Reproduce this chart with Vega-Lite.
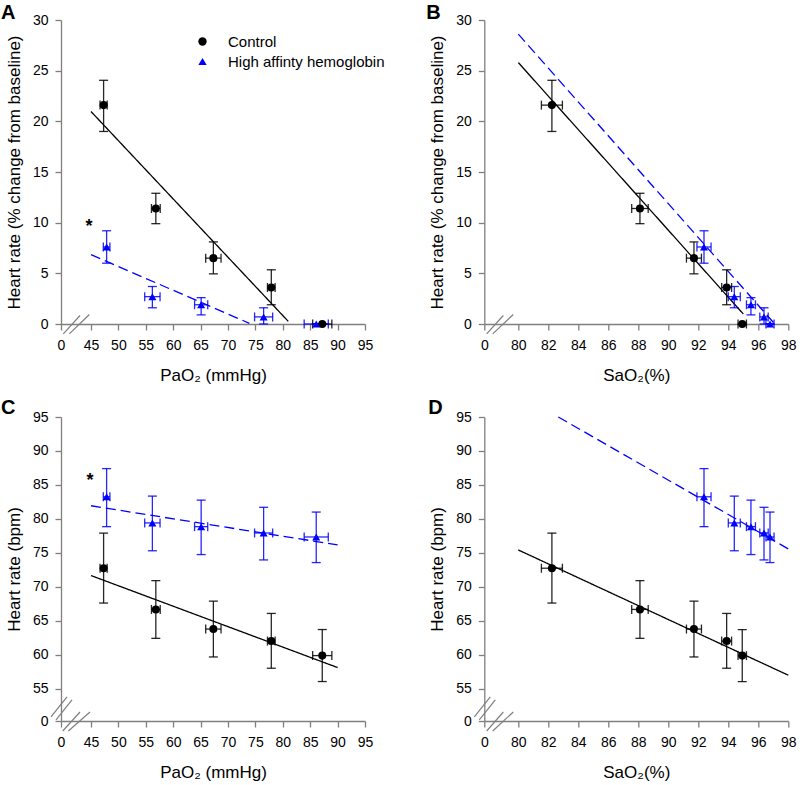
{
  "$schema": "https://vega.github.io/schema/vega-lite/v6.json",
  "padding": {"left": 1, "top": 3, "right": 5, "bottom": 5},
  "background": "white",
  "datasets": {
    "pts": [
      {"group":"Control","PaO2":47.3,"PaO2_lo":46.65,"PaO2_hi":47.95,"SaO2":82.24,"SaO2_lo":81.54,"SaO2_hi":82.94,"HRp":21.6,"HRp_lo":19.0,"HRp_hi":24.05,"HRb":72.73,"HRb_lo":67.6,"HRb_hi":77.9},
      {"group":"Control","PaO2":56.83,"PaO2_lo":56.03,"PaO2_hi":57.63,"SaO2":88.11,"SaO2_lo":87.56,"SaO2_hi":88.66,"HRp":11.4,"HRp_lo":9.9,"HRp_hi":12.9,"HRb":66.66,"HRb_lo":62.4,"HRb_hi":70.9},
      {"group":"Control","PaO2":67.33,"PaO2_lo":65.93,"PaO2_hi":68.73,"SaO2":91.71,"SaO2_lo":91.21,"SaO2_hi":92.21,"HRp":6.5,"HRp_lo":4.95,"HRp_hi":8.1,"HRb":63.77,"HRb_lo":59.66,"HRb_hi":67.88},
      {"group":"Control","PaO2":77.9,"PaO2_lo":77.2,"PaO2_hi":78.6,"SaO2":93.89,"SaO2_lo":93.56,"SaO2_hi":94.22,"HRp":3.6,"HRp_lo":1.9,"HRp_hi":5.35,"HRb":62.0,"HRb_lo":58.0,"HRb_hi":66.07},
      {"group":"Control","PaO2":87.2,"PaO2_lo":85.45,"PaO2_hi":88.95,"SaO2":94.93,"SaO2_lo":94.65,"SaO2_hi":95.21,"HRp":0,"HRp_lo":0,"HRp_hi":0,"HRb":59.86,"HRb_lo":56.04,"HRb_hi":63.7},
      {"group":"High affinty hemoglobin","PaO2":47.85,"PaO2_lo":47.25,"PaO2_hi":48.45,"SaO2":92.38,"SaO2_lo":91.91,"SaO2_hi":92.85,"HRp":7.6,"HRp_lo":6.0,"HRp_hi":9.2,"HRb":83.25,"HRb_lo":78.85,"HRb_hi":87.4},
      {"group":"High affinty hemoglobin","PaO2":56.2,"PaO2_lo":54.8,"PaO2_hi":57.6,"SaO2":94.4,"SaO2_lo":94.0,"SaO2_hi":94.8,"HRp":2.7,"HRp_lo":1.6,"HRp_hi":3.7,"HRb":79.4,"HRb_lo":75.3,"HRb_hi":83.35},
      {"group":"High affinty hemoglobin","PaO2":65.1,"PaO2_lo":63.9,"PaO2_hi":66.3,"SaO2":95.51,"SaO2_lo":95.21,"SaO2_hi":95.81,"HRp":1.9,"HRp_lo":0.9,"HRp_hi":2.6,"HRb":78.85,"HRb_lo":74.74,"HRb_hi":82.76},
      {"group":"High affinty hemoglobin","PaO2":76.5,"PaO2_lo":74.85,"PaO2_hi":78.15,"SaO2":96.38,"SaO2_lo":96.1,"SaO2_hi":96.66,"HRp":0.7,"HRp_lo":0.0,"HRp_hi":1.6,"HRb":77.92,"HRb_lo":73.95,"HRb_hi":81.7},
      {"group":"High affinty hemoglobin","PaO2":86.1,"PaO2_lo":83.9,"PaO2_hi":88.3,"SaO2":96.78,"SaO2_lo":96.51,"SaO2_hi":97.05,"HRp":0,"HRp_lo":0,"HRp_hi":0,"HRb":77.33,"HRb_lo":73.56,"HRb_hi":81.0}
    ],
    "lines": [
      {"panel":"A","group":"Control","x1":45,"y1":20.97,"x2":81.0,"y2":0.26},
      {"panel":"A","group":"High affinty hemoglobin","x1":45,"y1":6.84,"x2":73.9,"y2":0.07},
      {"panel":"B","group":"Control","x1":80,"y1":25.8,"x2":95.0,"y2":0.99},
      {"panel":"B","group":"High affinty hemoglobin","x1":80,"y1":28.6,"x2":97.1,"y2":0.0},
      {"panel":"C","group":"Control","x1":45,"y1":71.65,"x2":90,"y2":58.1},
      {"panel":"C","group":"High affinty hemoglobin","x1":45,"y1":81.93,"x2":90,"y2":76.16},
      {"panel":"D","group":"Control","x1":80,"y1":75.42,"x2":98,"y2":56.97},
      {"panel":"D","group":"High affinty hemoglobin","x1":82.67,"y1":95,"x2":98,"y2":75.57}
    ],
    "breaks": [
      {"panel":"A","x1":3.5,"y1":-0.97,"x2":28.5,"y2":0.84},
      {"panel":"A","x1":12.5,"y1":-0.97,"x2":42.5,"y2":0.94},
      {"panel":"B","x1":5.6,"y1":-0.97,"x2":44.7,"y2":0.84},
      {"panel":"B","x1":19.8,"y1":-0.97,"x2":68.2,"y2":0.94},
      {"panel":"C","x1":2.6,"y1":-17,"x2":28.5,"y2":15.3},
      {"panel":"C","x1":11,"y1":-17,"x2":43.5,"y2":15.3},
      {"panel":"C","x1":-15,"y1":6.8,"x2":9,"y2":40.8},
      {"panel":"C","x1":-7.5,"y1":1.7,"x2":16.5,"y2":35.7},
      {"panel":"D","x1":5.6,"y1":-17,"x2":44.7,"y2":15.3},
      {"panel":"D","x1":19.8,"y1":-17,"x2":68.2,"y2":15.3},
      {"panel":"D","x1":-23.5,"y1":6.8,"x2":14.1,"y2":40.8},
      {"panel":"D","x1":-11.8,"y1":1.7,"x2":25.9,"y2":35.7}
    ],
    "notes": [
      {"panel":"A","x":42,"y":9.1,"label":"*"},
      {"panel":"C","x":43.5,"y":84.8,"label":"*"}
    ]
  },
  "columns": 2,
  "bounds": "flush",
  "spacing": {"row": 93, "column": 119.3},
  "resolve": {"scale": {"x":"independent","y":"independent","color":"independent","shape":"independent"}},
  "concat": [
    {
      "width": 304, "height": 304,
      "title": {"text":"A","anchor":"start","frame":"group","fontSize":20,"fontWeight":"bold","dx":-60,"dy":27,"offset":1,"baseline":"alphabetic"},
      "layer": [
        {"data":{"name":"pts"},
         "mark":{"type":"point","filled":true,"size":65,"opacity":0},
         "encoding":{
           "x":{"field":"PaO2","type":"quantitative","scale":{"domain":[0,45,95],"range":[0,30,304],"nice":false,"zero":false},"axis":{"values":[0,45,50,55,60,65,70,75,80,85,90,95],"title":"PaO₂ (mmHg)"}},
           "y":{"field":"HRp","type":"quantitative","scale":{"domain":[0,30],"nice":false},"axis":{"values":[0,5,10,15,20,25,30],"title":"Heart rate (% change from baseline)"}},
           "color":{"field":"group","type":"nominal","scale":{"domain":["Control","High affinty hemoglobin"],"range":["#000000","#0000ff"]},
             "legend":{"orient":"none","legendX":134,"legendY":14,"title":null,"labelFontSize":15,"symbolSize":70,"labelOffset":18,"rowPadding":4}},
           "shape":{"field":"group","type":"nominal","scale":{"domain":["Control","High affinty hemoglobin"],"range":["circle","triangle-up"]},
             "legend":{"orient":"none","legendX":134,"legendY":14,"title":null,"labelFontSize":15,"symbolSize":70,"labelOffset":18,"rowPadding":4}}}},
        {"data":{"name":"breaks"},"transform":[{"filter":"datum.panel === 'A'"}],
         "mark":{"type":"rule","color":"#7f7f7f","strokeWidth":1.2},
         "encoding":{"x":{"field":"x1","type":"quantitative","axis":{"values":[0,45,50,55,60,65,70,75,80,85,90,95],"title":"PaO₂ (mmHg)"}},"y":{"field":"y1","type":"quantitative","axis":{"values":[0,5,10,15,20,25,30],"title":"Heart rate (% change from baseline)"}},"x2":{"field":"x2"},"y2":{"field":"y2"}}},
        {"data":{"name":"lines"},"transform":[{"filter":"datum.panel === 'A'"}],
         "mark":{"type":"rule","strokeWidth":1.3},
         "encoding":{"x":{"field":"x1","type":"quantitative","axis":{"values":[0,45,50,55,60,65,70,75,80,85,90,95],"title":"PaO₂ (mmHg)"}},"y":{"field":"y1","type":"quantitative","axis":{"values":[0,5,10,15,20,25,30],"title":"Heart rate (% change from baseline)"}},"x2":{"field":"x2"},"y2":{"field":"y2"},
           "color":{"condition":{"test":"datum.group === 'Control'","value":"#000000"},"value":"#0000ff"},
           "strokeDash":{"condition":{"test":"datum.group === 'Control'","value":[1,0]},"value":[10,5]}}},
        {"data":{"name":"pts"},
         "mark":{"type":"errorbar","ticks":{"size":9},"thickness":1.3,"opacity":0.85},
         "encoding":{"x":{"field":"PaO2","type":"quantitative","axis":{"values":[0,45,50,55,60,65,70,75,80,85,90,95],"title":"PaO₂ (mmHg)"}},"y":{"field":"HRp_lo","type":"quantitative","axis":{"values":[0,5,10,15,20,25,30],"title":"Heart rate (% change from baseline)"}},"y2":{"field":"HRp_hi"},
           "color":{"condition":{"test":"datum.group === 'Control'","value":"#000000"},"value":"#0000ff"}}},
        {"data":{"name":"pts"},
         "mark":{"type":"errorbar","ticks":{"size":9},"thickness":1.3,"opacity":0.85},
         "encoding":{"x":{"field":"PaO2_lo","type":"quantitative","axis":{"values":[0,45,50,55,60,65,70,75,80,85,90,95],"title":"PaO₂ (mmHg)"}},"x2":{"field":"PaO2_hi"},"y":{"field":"HRp","type":"quantitative","axis":{"values":[0,5,10,15,20,25,30],"title":"Heart rate (% change from baseline)"}},
           "color":{"condition":{"test":"datum.group === 'Control'","value":"#000000"},"value":"#0000ff"}}},
        {"data":{"name":"pts"},
         "mark":{"type":"point","filled":true,"size":65,"opacity":1},
         "encoding":{
           "x":{"field":"PaO2","type":"quantitative","axis":{"values":[0,45,50,55,60,65,70,75,80,85,90,95],"title":"PaO₂ (mmHg)"}},
           "y":{"field":"HRp","type":"quantitative","axis":{"values":[0,5,10,15,20,25,30],"title":"Heart rate (% change from baseline)"}},
           "color":{"field":"group","type":"nominal"},
           "shape":{"field":"group","type":"nominal"}}},
        {"data":{"name":"notes"},"transform":[{"filter":"datum.panel === 'A'"}],
         "mark":{"type":"text","fontSize":18,"fontWeight":"bold","baseline":"alphabetic","align":"center","color":"#000"},
         "encoding":{"x":{"field":"x","type":"quantitative","axis":{"values":[0,45,50,55,60,65,70,75,80,85,90,95],"title":"PaO₂ (mmHg)"}},"y":{"field":"y","type":"quantitative","axis":{"values":[0,5,10,15,20,25,30],"title":"Heart rate (% change from baseline)"}},"text":{"field":"label"}}}
      ]
    },
    {
      "width": 304, "height": 304,
      "title": {"text":"B","anchor":"start","frame":"group","fontSize":20,"fontWeight":"bold","dx":-58,"dy":27,"offset":1,"baseline":"alphabetic"},
      "layer": [
        {"data":{"name":"pts"},
         "mark":{"type":"point","filled":true,"size":65,"opacity":0},
         "encoding":{
           "x":{"field":"SaO2","type":"quantitative","scale":{"domain":[0,80,98],"range":[0,34,304],"nice":false,"zero":false},"axis":{"values":[0,80,82,84,86,88,90,92,94,96,98],"title":"SaO₂(%)"}},
           "y":{"field":"HRp","type":"quantitative","scale":{"domain":[0,30],"nice":false},"axis":{"values":[0,5,10,15,20,25,30],"title":"Heart rate (% change from baseline)"}}}},
        {"data":{"name":"breaks"},"transform":[{"filter":"datum.panel === 'B'"}],
         "mark":{"type":"rule","color":"#7f7f7f","strokeWidth":1.2},
         "encoding":{"x":{"field":"x1","type":"quantitative","axis":{"values":[0,80,82,84,86,88,90,92,94,96,98],"title":"SaO₂(%)"}},"y":{"field":"y1","type":"quantitative","axis":{"values":[0,5,10,15,20,25,30],"title":"Heart rate (% change from baseline)"}},"x2":{"field":"x2"},"y2":{"field":"y2"}}},
        {"data":{"name":"lines"},"transform":[{"filter":"datum.panel === 'B'"}],
         "mark":{"type":"rule","strokeWidth":1.3},
         "encoding":{"x":{"field":"x1","type":"quantitative","axis":{"values":[0,80,82,84,86,88,90,92,94,96,98],"title":"SaO₂(%)"}},"y":{"field":"y1","type":"quantitative","axis":{"values":[0,5,10,15,20,25,30],"title":"Heart rate (% change from baseline)"}},"x2":{"field":"x2"},"y2":{"field":"y2"},
           "color":{"condition":{"test":"datum.group === 'Control'","value":"#000000"},"value":"#0000ff"},
           "strokeDash":{"condition":{"test":"datum.group === 'Control'","value":[1,0]},"value":[10,5]}}},
        {"data":{"name":"pts"},
         "mark":{"type":"errorbar","ticks":{"size":9},"thickness":1.3,"opacity":0.85},
         "encoding":{"x":{"field":"SaO2","type":"quantitative","axis":{"values":[0,80,82,84,86,88,90,92,94,96,98],"title":"SaO₂(%)"}},"y":{"field":"HRp_lo","type":"quantitative","axis":{"values":[0,5,10,15,20,25,30],"title":"Heart rate (% change from baseline)"}},"y2":{"field":"HRp_hi"},
           "color":{"condition":{"test":"datum.group === 'Control'","value":"#000000"},"value":"#0000ff"}}},
        {"data":{"name":"pts"},
         "mark":{"type":"errorbar","ticks":{"size":9},"thickness":1.3,"opacity":0.85},
         "encoding":{"x":{"field":"SaO2_lo","type":"quantitative","axis":{"values":[0,80,82,84,86,88,90,92,94,96,98],"title":"SaO₂(%)"}},"x2":{"field":"SaO2_hi"},"y":{"field":"HRp","type":"quantitative","axis":{"values":[0,5,10,15,20,25,30],"title":"Heart rate (% change from baseline)"}},
           "color":{"condition":{"test":"datum.group === 'Control'","value":"#000000"},"value":"#0000ff"}}},
        {"data":{"name":"pts"},
         "mark":{"type":"point","filled":true,"size":65,"opacity":1},
         "encoding":{
           "x":{"field":"SaO2","type":"quantitative","axis":{"values":[0,80,82,84,86,88,90,92,94,96,98],"title":"SaO₂(%)"}},
           "y":{"field":"HRp","type":"quantitative","axis":{"values":[0,5,10,15,20,25,30],"title":"Heart rate (% change from baseline)"}},
           "color":{"field":"group","type":"nominal","scale":{"domain":["Control","High affinty hemoglobin"],"range":["#000000","#0000ff"]},"legend":null},
           "shape":{"field":"group","type":"nominal","scale":{"domain":["Control","High affinty hemoglobin"],"range":["circle","triangle-up"]},"legend":null}}}
      ]
    },
    {
      "width": 304, "height": 304,
      "title": {"text":"C","anchor":"start","frame":"group","fontSize":20,"fontWeight":"bold","dx":-60,"dy":27,"offset":3,"baseline":"alphabetic"},
      "layer": [
        {"data":{"name":"pts"},
         "mark":{"type":"point","filled":true,"size":65,"opacity":0},
         "encoding":{
           "x":{"field":"PaO2","type":"quantitative","scale":{"domain":[0,45,95],"range":[0,30,304],"nice":false,"zero":false},"axis":{"values":[0,45,50,55,60,65,70,75,80,85,90,95],"title":"PaO₂ (mmHg)"}},
           "y":{"field":"HRb","type":"quantitative","scale":{"domain":[0,55,95],"range":[304,271.6,0],"nice":false,"zero":false},"axis":{"values":[0,55,60,65,70,75,80,85,90,95],"title":"Heart rate (bpm)"}}}},
        {"data":{"name":"breaks"},"transform":[{"filter":"datum.panel === 'C'"}],
         "mark":{"type":"rule","color":"#7f7f7f","strokeWidth":1.2},
         "encoding":{"x":{"field":"x1","type":"quantitative","axis":{"values":[0,45,50,55,60,65,70,75,80,85,90,95],"title":"PaO₂ (mmHg)"}},"y":{"field":"y1","type":"quantitative","axis":{"values":[0,55,60,65,70,75,80,85,90,95],"title":"Heart rate (bpm)"}},"x2":{"field":"x2"},"y2":{"field":"y2"}}},
        {"data":{"name":"lines"},"transform":[{"filter":"datum.panel === 'C'"}],
         "mark":{"type":"rule","strokeWidth":1.3},
         "encoding":{"x":{"field":"x1","type":"quantitative","axis":{"values":[0,45,50,55,60,65,70,75,80,85,90,95],"title":"PaO₂ (mmHg)"}},"y":{"field":"y1","type":"quantitative","axis":{"values":[0,55,60,65,70,75,80,85,90,95],"title":"Heart rate (bpm)"}},"x2":{"field":"x2"},"y2":{"field":"y2"},
           "color":{"condition":{"test":"datum.group === 'Control'","value":"#000000"},"value":"#0000ff"},
           "strokeDash":{"condition":{"test":"datum.group === 'Control'","value":[1,0]},"value":[10,5]}}},
        {"data":{"name":"pts"},
         "mark":{"type":"errorbar","ticks":{"size":9},"thickness":1.3,"opacity":0.85},
         "encoding":{"x":{"field":"PaO2","type":"quantitative","axis":{"values":[0,45,50,55,60,65,70,75,80,85,90,95],"title":"PaO₂ (mmHg)"}},"y":{"field":"HRb_lo","type":"quantitative","axis":{"values":[0,55,60,65,70,75,80,85,90,95],"title":"Heart rate (bpm)"}},"y2":{"field":"HRb_hi"},
           "color":{"condition":{"test":"datum.group === 'Control'","value":"#000000"},"value":"#0000ff"}}},
        {"data":{"name":"pts"},
         "mark":{"type":"errorbar","ticks":{"size":9},"thickness":1.3,"opacity":0.85},
         "encoding":{"x":{"field":"PaO2_lo","type":"quantitative","axis":{"values":[0,45,50,55,60,65,70,75,80,85,90,95],"title":"PaO₂ (mmHg)"}},"x2":{"field":"PaO2_hi"},"y":{"field":"HRb","type":"quantitative","axis":{"values":[0,55,60,65,70,75,80,85,90,95],"title":"Heart rate (bpm)"}},
           "color":{"condition":{"test":"datum.group === 'Control'","value":"#000000"},"value":"#0000ff"}}},
        {"data":{"name":"pts"},
         "mark":{"type":"point","filled":true,"size":65,"opacity":1},
         "encoding":{
           "x":{"field":"PaO2","type":"quantitative","axis":{"values":[0,45,50,55,60,65,70,75,80,85,90,95],"title":"PaO₂ (mmHg)"}},
           "y":{"field":"HRb","type":"quantitative","axis":{"values":[0,55,60,65,70,75,80,85,90,95],"title":"Heart rate (bpm)"}},
           "color":{"field":"group","type":"nominal","scale":{"domain":["Control","High affinty hemoglobin"],"range":["#000000","#0000ff"]},"legend":null},
           "shape":{"field":"group","type":"nominal","scale":{"domain":["Control","High affinty hemoglobin"],"range":["circle","triangle-up"]},"legend":null}}},
        {"data":{"name":"notes"},"transform":[{"filter":"datum.panel === 'C'"}],
         "mark":{"type":"text","fontSize":18,"fontWeight":"bold","baseline":"alphabetic","align":"center","color":"#000"},
         "encoding":{"x":{"field":"x","type":"quantitative","axis":{"values":[0,45,50,55,60,65,70,75,80,85,90,95],"title":"PaO₂ (mmHg)"}},"y":{"field":"y","type":"quantitative","axis":{"values":[0,55,60,65,70,75,80,85,90,95],"title":"Heart rate (bpm)"}},"text":{"field":"label"}}}
      ]
    },
    {
      "width": 304, "height": 304,
      "title": {"text":"D","anchor":"start","frame":"group","fontSize":20,"fontWeight":"bold","dx":-56,"dy":27,"offset":3,"baseline":"alphabetic"},
      "layer": [
        {"data":{"name":"pts"},
         "mark":{"type":"point","filled":true,"size":65,"opacity":0},
         "encoding":{
           "x":{"field":"SaO2","type":"quantitative","scale":{"domain":[0,80,98],"range":[0,34,304],"nice":false,"zero":false},"axis":{"values":[0,80,82,84,86,88,90,92,94,96,98],"title":"SaO₂(%)"}},
           "y":{"field":"HRb","type":"quantitative","scale":{"domain":[0,55,95],"range":[304,271.6,0],"nice":false,"zero":false},"axis":{"values":[0,55,60,65,70,75,80,85,90,95],"title":"Heart rate (bpm)"}}}},
        {"data":{"name":"breaks"},"transform":[{"filter":"datum.panel === 'D'"}],
         "mark":{"type":"rule","color":"#7f7f7f","strokeWidth":1.2},
         "encoding":{"x":{"field":"x1","type":"quantitative","axis":{"values":[0,80,82,84,86,88,90,92,94,96,98],"title":"SaO₂(%)"}},"y":{"field":"y1","type":"quantitative","axis":{"values":[0,55,60,65,70,75,80,85,90,95],"title":"Heart rate (bpm)"}},"x2":{"field":"x2"},"y2":{"field":"y2"}}},
        {"data":{"name":"lines"},"transform":[{"filter":"datum.panel === 'D'"}],
         "mark":{"type":"rule","strokeWidth":1.3},
         "encoding":{"x":{"field":"x1","type":"quantitative","axis":{"values":[0,80,82,84,86,88,90,92,94,96,98],"title":"SaO₂(%)"}},"y":{"field":"y1","type":"quantitative","axis":{"values":[0,55,60,65,70,75,80,85,90,95],"title":"Heart rate (bpm)"}},"x2":{"field":"x2"},"y2":{"field":"y2"},
           "color":{"condition":{"test":"datum.group === 'Control'","value":"#000000"},"value":"#0000ff"},
           "strokeDash":{"condition":{"test":"datum.group === 'Control'","value":[1,0]},"value":[10,5]}}},
        {"data":{"name":"pts"},
         "mark":{"type":"errorbar","ticks":{"size":9},"thickness":1.3,"opacity":0.85},
         "encoding":{"x":{"field":"SaO2","type":"quantitative","axis":{"values":[0,80,82,84,86,88,90,92,94,96,98],"title":"SaO₂(%)"}},"y":{"field":"HRb_lo","type":"quantitative","axis":{"values":[0,55,60,65,70,75,80,85,90,95],"title":"Heart rate (bpm)"}},"y2":{"field":"HRb_hi"},
           "color":{"condition":{"test":"datum.group === 'Control'","value":"#000000"},"value":"#0000ff"}}},
        {"data":{"name":"pts"},
         "mark":{"type":"errorbar","ticks":{"size":9},"thickness":1.3,"opacity":0.85},
         "encoding":{"x":{"field":"SaO2_lo","type":"quantitative","axis":{"values":[0,80,82,84,86,88,90,92,94,96,98],"title":"SaO₂(%)"}},"x2":{"field":"SaO2_hi"},"y":{"field":"HRb","type":"quantitative","axis":{"values":[0,55,60,65,70,75,80,85,90,95],"title":"Heart rate (bpm)"}},
           "color":{"condition":{"test":"datum.group === 'Control'","value":"#000000"},"value":"#0000ff"}}},
        {"data":{"name":"pts"},
         "mark":{"type":"point","filled":true,"size":65,"opacity":1},
         "encoding":{
           "x":{"field":"SaO2","type":"quantitative","axis":{"values":[0,80,82,84,86,88,90,92,94,96,98],"title":"SaO₂(%)"}},
           "y":{"field":"HRb","type":"quantitative","axis":{"values":[0,55,60,65,70,75,80,85,90,95],"title":"Heart rate (bpm)"}},
           "color":{"field":"group","type":"nominal","scale":{"domain":["Control","High affinty hemoglobin"],"range":["#000000","#0000ff"]},"legend":null},
           "shape":{"field":"group","type":"nominal","scale":{"domain":["Control","High affinty hemoglobin"],"range":["circle","triangle-up"]},"legend":null}}}
      ]
    }
  ],
  "config": {
    "font": "Liberation Sans",
    "view": {"stroke": null},
    "title": {"color": "#000"},
    "axis": {"grid": false, "domainColor": "#7f7f7f", "tickColor": "#7f7f7f", "domainWidth": 1.3, "tickWidth": 1.3, "tickSize": 6, "labelFontSize": 14, "labelColor": "#000", "titleFontSize": 17, "titleFontWeight": "normal", "titleColor": "#000", "labelFlush": false, "labelOverlap": false, "labelBound": false},
    "axisY": {"titlePadding": 9, "labelPadding": 7},
    "axisX": {"titlePadding": 15, "labelPadding": 8},
    "legend": {"labelColor": "#000", "labelFont": "Liberation Sans"}
  }
}
